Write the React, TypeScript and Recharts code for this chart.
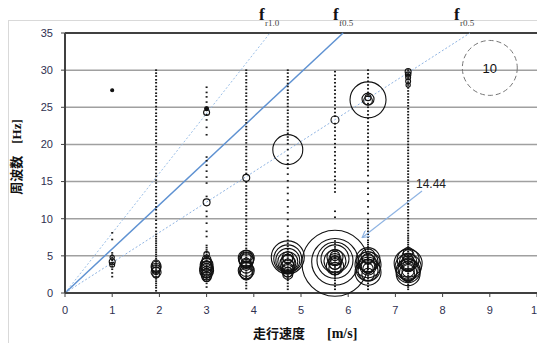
import React from "react";
import {
  ScatterChart,
  Scatter,
  XAxis,
  YAxis,
  ZAxis,
  CartesianGrid,
  ReferenceLine,
} from "recharts";

// running speeds [m/s] of each measurement column
const SPEEDS = [1.0, 1.93, 3.0, 3.84, 4.72, 5.72, 6.42, 7.27];

// small point frequencies [Hz] per column
const dots1 = [2.2, 2.7, 3.2, 3.6, 4.0, 4.4, 4.8, 5.1, 5.4, 7.2, 8.1];
const dots2 = [0.3, 0.7, 1.0, 1.3, 1.6, 1.9, 2.2, 2.5, 2.8, 3.1, 3.4, 3.7, 4.0, 4.3, 4.6, 4.9, 5.2, 5.5, 5.8, 6.1, 6.4, 6.7, 7.0, 7.3, 7.6, 7.9, 8.3, 8.8, 9.3, 9.8, 10.3, 10.7, 11.2, 11.6, 12.1, 12.5, 13.0, 13.4, 13.9, 14.3, 14.8, 15.2, 15.7, 16.1, 16.6, 17.0, 17.5, 17.9, 18.4, 18.8, 19.3, 19.7, 20.2, 20.6, 21.1, 21.5, 22.0, 22.4, 22.9, 23.3, 23.8, 24.2, 24.7, 25.1, 25.6, 26.0, 26.5, 26.9, 27.4, 27.8, 28.3, 28.7, 29.2, 29.6, 30.0];
const dots3 = [0.8, 1.3, 1.6, 1.9, 2.2, 2.5, 2.8, 3.1, 3.4, 3.7, 4.0, 4.3, 4.6, 4.9, 5.2, 5.5, 5.8, 6.1, 6.4, 7.6, 8.3, 9.4, 10.3, 11.0, 13.0, 14.8, 15.6, 16.4, 17.2, 17.8, 18.3, 21.3, 22.3, 23.3, 24.0, 24.6, 25.0, 25.7, 26.4, 27.0, 27.7];
const dots4 = [0.6, 1.0, 1.4, 1.8, 2.1, 2.4, 2.7, 3.0, 3.3, 3.6, 3.9, 4.2, 4.5, 4.8, 5.1, 5.4, 5.7, 6.0, 6.4, 6.8, 7.2, 7.7, 8.1, 8.6, 9.0, 9.5, 9.9, 10.4, 10.8, 11.3, 11.7, 12.2, 12.6, 13.1, 13.5, 14.0, 14.4, 14.9, 16.1, 16.6, 17.0, 17.5, 17.9, 18.4, 18.8, 19.3, 19.7, 20.2, 20.6, 21.1, 21.5, 22.0, 22.4, 22.9, 23.3, 23.8, 24.2, 24.7, 25.1, 25.6, 26.0, 26.5, 26.9, 27.4, 27.8, 28.3, 28.7, 29.2, 29.6, 30.0];
const dots5 = [0.5, 0.9, 1.3, 1.7, 2.0, 2.3, 2.6, 2.9, 3.2, 3.5, 3.8, 4.1, 4.4, 4.7, 5.0, 5.3, 5.6, 5.9, 6.3, 6.7, 7.1, 7.6, 8.2, 9.0, 9.9, 10.8, 11.6, 12.5, 13.4, 14.2, 15.1, 16.0, 16.8, 17.4, 17.9, 18.5, 19.3, 20.1, 20.6, 21.0, 21.5, 21.9, 22.4, 22.8, 23.3, 23.7, 24.2, 24.6, 25.1, 25.5, 26.0, 26.4, 26.9, 27.3, 27.8, 28.2, 28.7, 29.1, 29.6, 30.0];
const dots6 = [0.5, 0.9, 1.3, 1.7, 2.0, 2.3, 2.6, 2.9, 3.2, 3.5, 3.8, 4.1, 4.4, 4.7, 5.0, 5.3, 5.6, 5.9, 6.2, 6.6, 7.0, 10.2, 11.0, 13.6, 14.1, 14.6, 15.2, 15.7, 16.3, 16.8, 17.4, 17.9, 18.5, 19.0, 19.6, 20.1, 20.7, 21.2, 21.8, 22.3, 22.8, 23.8, 24.3, 24.8, 25.3, 25.8, 26.3, 26.8, 27.3, 27.8, 28.3, 28.8, 29.3, 29.8];
const dots7 = [0.5, 0.9, 1.3, 1.7, 2.0, 2.3, 2.6, 2.9, 3.2, 3.5, 3.8, 4.1, 4.4, 4.7, 5.0, 5.3, 5.6, 5.9, 6.2, 6.5, 6.8, 7.1, 7.5, 7.9, 8.3, 8.7, 9.1, 9.5, 9.9, 10.7, 11.6, 12.4, 13.3, 14.1, 14.9, 15.8, 16.5, 17.0, 17.5, 18.0, 18.5, 19.0, 19.5, 20.0, 20.5, 21.0, 21.5, 22.0, 22.5, 23.0, 23.5, 24.0, 24.5, 25.0, 25.5, 26.5, 27.0, 27.5, 28.0, 28.5, 29.0, 29.5, 30.0];
const dots8 = [0.5, 0.8, 1.1, 1.4, 1.7, 2.0, 2.3, 2.6, 2.9, 3.2, 3.5, 3.8, 4.1, 4.4, 4.7, 5.0, 5.3, 5.6, 5.9, 6.2, 6.5, 6.8, 7.1, 7.4, 7.7, 8.0, 8.4, 8.8, 9.2, 9.6, 10.0, 10.4, 10.8, 11.2, 11.6, 12.0, 12.4, 12.8, 13.2, 13.6, 14.0, 14.4, 14.8, 15.2, 15.6, 16.0, 16.4, 16.8, 17.2, 17.6, 18.0, 18.4, 18.8, 19.2, 19.6, 20.0, 20.4, 20.8, 21.2, 21.6, 22.0, 22.4, 22.8, 23.2, 23.6, 24.0, 24.4, 24.8, 25.2, 25.6, 26.0, 26.4, 26.8, 27.2, 27.6, 28.0, 28.4, 28.8, 29.2, 29.6, 30.0];
const DOT_COLUMNS = [dots1, dots2, dots3, dots4, dots5, dots6, dots7, dots8];

// bubbles per column: [frequency Hz, size]
const bubbles1 = [[4.2, 0.12], [4.8, 0.06], [3.8, 0.08], [27.3, 0.03]];
const bubbles2 = [[3.4, 0.3], [2.8, 0.33], [3.9, 0.21], [3.2, 0.25], [2.5, 0.15], [3.0, 0.2], [3.6, 0.33]];
const bubbles3 = [[3.0, 0.65], [3.5, 0.5], [4.0, 0.4], [2.5, 0.4], [4.5, 0.25], [2.2, 0.3], [3.8, 0.55], [5.2, 0.1], [2.8, 0.45], [3.3, 0.6], [4.2, 0.3], [2.0, 0.15], [3.6, 0.35], [2.7, 0.25], [12.2, 0.16], [24.3, 0.12], [24.8, 0.05]];
const bubbles4 = [[4.7, 0.85], [4.3, 0.65], [4.9, 0.5], [3.5, 0.5], [3.0, 0.85], [2.6, 0.5], [4.0, 0.35], [4.5, 0.75], [3.2, 0.7], [2.8, 0.6], [4.8, 0.3], [3.8, 0.4], [15.5, 0.16]];
const bubbles5 = [[4.8, 3.6], [4.6, 2.6], [4.4, 1.9], [4.2, 1.33], [4.0, 0.85], [3.5, 0.65], [3.0, 0.5], [4.8, 0.4], [2.5, 0.33], [4.3, 0.6], [3.8, 0.45], [3.3, 0.4], [4.6, 0.3], [2.8, 0.3], [19.3, 2.98]];
const bubbles6 = [[4.0, 14.44], [4.2, 7.2], [4.4, 4.3], [4.6, 2.6], [4.3, 1.6], [4.8, 0.85], [4.5, 0.5], [5.0, 0.3], [3.6, 1.0], [4.1, 0.6], [3.9, 0.4], [4.4, 0.25], [3.3, 0.5], [23.3, 0.21]];
const bubbles7 = [[4.5, 1.9], [3.8, 2.24], [3.2, 1.9], [2.8, 2.24], [4.2, 1.33], [3.5, 0.85], [5.0, 0.65], [3.0, 1.33], [4.0, 1.0], [3.6, 0.6], [4.6, 0.4], [2.5, 0.5], [3.3, 0.35], [26.0, 4.3], [26.1, 0.48], [25.9, 0.25], [26.3, 0.12]];
const bubbles8 = [[4.0, 2.6], [3.5, 2.24], [3.0, 1.9], [4.5, 1.6], [2.6, 1.9], [4.2, 1.0], [3.8, 0.65], [5.0, 0.5], [5.5, 0.3], [3.2, 1.33], [2.8, 1.0], [4.1, 0.6], [3.6, 0.4], [4.6, 0.3], [3.0, 0.5], [2.4, 0.6], [29.8, 0.12], [29.4, 0.1], [29.0, 0.08], [28.5, 0.08], [28.0, 0.06]];
const BUBBLE_COLUMNS = [bubbles1, bubbles2, bubbles3, bubbles4, bubbles5, bubbles6, bubbles7, bubbles8];

// size legend bubble
const legendBubble = [{ x: 9.0, y: 30.3, z: 10 }];

// ratio lines f = k * v
const lineNames = ["r1.0", "f0.5", "r0.5"];
const lineSlopes = [8.06, 5.94, 4.08];

const X_TICKS = [0, 1, 2, 3, 4, 5, 6, 7, 8, 9, 10];
const Y_TICKS = [0, 5, 10, 15, 20, 25, 30, 35];
const Y_MAX = 35;
const SIZE_MAX = 14.44;

const dotData = SPEEDS.flatMap((x, i) => DOT_COLUMNS[i].map((y) => ({ x, y })));
const bubbleData = SPEEDS.flatMap((x, i) =>
  BUBBLE_COLUMNS[i].map(([y, z]) => ({ x, y, z }))
);

const DotShape = (p: any) => (
  <rect x={p.cx - 1} y={p.cy - 0.8} width={2} height={1.6} fill="#1a1a1a" />
);
const BubbleShape = (p: any) => {
  const r = Math.max(p.width / 2, 1);
  return (
    <circle cx={p.cx} cy={p.cy} r={r} fill={r < 2 ? "#111" : "none"} stroke="#111" strokeWidth={1.1} />
  );
};
const LegendShape = (p: any) => (
  <g>
    <circle cx={p.cx} cy={p.cy} r={p.width / 2} fill="none" stroke="#777" strokeWidth={1} strokeDasharray="5 3" />
    <text x={p.cx} y={p.cy + 5} textAnchor="middle" fontFamily="Liberation Sans, Arial, sans-serif" fontSize={13} fill="#111">
      {p.payload.z}
    </text>
  </g>
);

const lineStyles = [
  { stroke: "#9cc0e8", strokeWidth: 1, strokeDasharray: "2 2" },
  { stroke: "#5f92d2", strokeWidth: 1.5 },
  { stroke: "#8fb4e3", strokeWidth: 1, strokeDasharray: "2 2" },
];

const tickStyle = { fill: "#2f3050", fontSize: 11, fontFamily: "Liberation Sans, Arial, sans-serif" };

export default function App() {
  return (
    <div style={{ position: "absolute", left: 0, top: 0, width: 537, height: 343, overflow: "hidden", background: "#fff" }}>
      <div style={{ position: "absolute", left: 8, top: 20, width: 700, height: 500, border: "1px solid #d9d9d9" }} />
      <div style={{ position: "absolute", left: 0, top: 0 }}>
        <ScatterChart width={560} height={343} margin={{ top: 33, right: 23, bottom: 20, left: 25 }}>
          <CartesianGrid vertical={false} stroke="#a0a0a0" strokeWidth={1.5} />
          <XAxis
            type="number"
            dataKey="x"
            domain={[0, 10]}
            ticks={X_TICKS}
            interval={0}
            height={30}
            allowDataOverflow
            axisLine={{ stroke: "#404040", strokeWidth: 2 }}
            tickLine={{ stroke: "#404040" }}
            tickSize={4}
            tickMargin={9}
            tick={tickStyle}
          />
          <YAxis
            type="number"
            dataKey="y"
            domain={[0, Y_MAX]}
            ticks={Y_TICKS}
            interval={0}
            width={40}
            axisLine={{ stroke: "#404040", strokeWidth: 2 }}
            tickLine={{ stroke: "#404040" }}
            tickSize={4}
            tickMargin={8}
            tick={tickStyle}
          />
          <ZAxis zAxisId="size" type="number" dataKey="z" domain={[0, SIZE_MAX]} range={[0, Math.PI * 33 * 33]} />
          <ZAxis zAxisId="dot" type="number" range={[4, 4]} />
          <ReferenceLine y={Y_MAX} stroke="#404040" strokeWidth={2} />
          {lineSlopes.map((k, i) => (
            <ReferenceLine
              key={lineNames[i]}
              segment={[{ x: 0, y: 0 }, { x: Y_MAX / k, y: Y_MAX }]}
              {...lineStyles[i]}
            />
          ))}
          <Scatter data={dotData} zAxisId="dot" shape={DotShape} isAnimationActive={false} />
          <Scatter data={bubbleData} zAxisId="size" shape={BubbleShape} isAnimationActive={false} />
          <Scatter data={legendBubble} zAxisId="size" shape={LegendShape} isAnimationActive={false} />
        </ScatterChart>
      </div>
      <svg width={537} height={343} style={{ position: "absolute", left: 0, top: 0, pointerEvents: "none" }}>
        <defs>
          <marker id="ah" markerWidth="8" markerHeight="8" refX="6" refY="4" orient="auto" markerUnits="userSpaceOnUse">
            <path d="M0,0 L7,4 L0,8" fill="none" stroke="#8fb4e3" strokeWidth={1.2} />
          </marker>
        </defs>
        {[
          { x: 259, sub: "r1.0" },
          { x: 333, sub: "f0.5" },
          { x: 454, sub: "r0.5" },
        ].map((l) => (
          <g key={l.sub}>
            <text x={l.x} y={20} fontFamily="Liberation Serif, serif" fontWeight="bold" fontSize={17} fill="#111">f</text>
            <text x={l.x + 6} y={26} fontFamily="Liberation Serif, serif" fontSize={9} fill="#444">{l.sub}</text>
          </g>
        ))}
        <text x={416} y={188} fontFamily="Liberation Sans, Arial, sans-serif" fontSize={12} fill="#222">14.44</text>
        <line x1={422} y1={191} x2={363} y2={237} stroke="#8fb4e3" strokeWidth={1.2} markerEnd="url(#ah)" />
        <text
          transform="translate(21,157) rotate(-90)"
          textAnchor="middle"
          fontFamily="Noto Sans CJK JP, sans-serif"
          fontWeight="bold"
          fontSize={13}
          fill="#111"
        >
          周波数<tspan dx={12} fontFamily="Liberation Serif, serif" fontWeight="bold">[Hz]</tspan>
        </text>
        <text x={253} y={338} fontFamily="Noto Sans CJK JP, sans-serif" fontWeight="bold" fontSize={13} fill="#111">
          走行速度<tspan dx={22} fontFamily="Liberation Serif, serif" fontWeight="bold" fontSize={14}>[m/s]</tspan>
        </text>
      </svg>
    </div>
  );
}
